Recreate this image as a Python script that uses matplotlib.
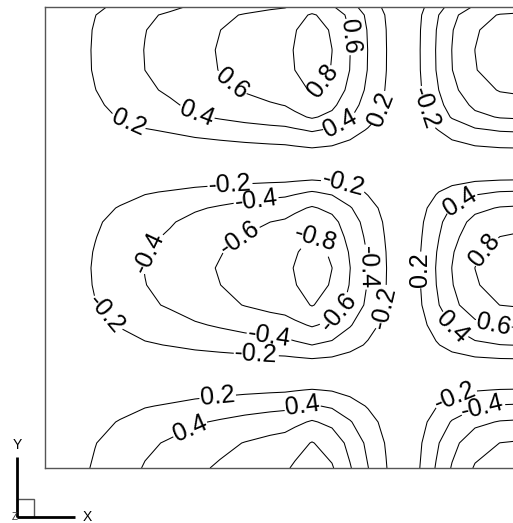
#====== Librerías ======
import numpy as np
import matplotlib
matplotlib.use("Agg")
import matplotlib.pyplot as plt
from matplotlib.patches import Rectangle

plt.rcParams['font.family'] = ['Liberation Sans', 'DejaVu Sans']

#====== Datos del campo (perfiles leídos a lo largo de x e y) ======
# nodos en x (desde el borde izquierdo) y amplitud relativa en cada uno
x_nodos = [0, 25, 50, 75, 100, 125, 150, 175, 200, 225, 240, 250, 267, 287, 305,
           323, 341, 358, 375, 391, 407, 430, 455, 480, 505]
amp_x = [0.03, 0.13, 0.24, 0.34, 0.45, 0.52, 0.61, 0.68, 0.75, 0.81, 0.84, 0.90,
         1.00, 0.89, 0.67, 0.44, 0.23, 0.00, -0.22, -0.45, -0.67, -0.89, -0.99,
         -1.02, -0.98]

# nodos en y (desde abajo) y perfil vertical
y_nodos = [0, 25, 46, 62, 78, 93, 108, 123, 143, 163, 183, 200, 216, 231, 246,
           260, 276, 288, 303, 321, 338, 351, 363, 378, 398, 418, 438, 453, 461]
perfil_y = [0.92, 0.81, 0.62, 0.42, 0.21, 0.0, -0.18, -0.40, -0.62, -0.81, -0.88,
            -0.90, -0.87, -0.81, -0.74, -0.62, -0.41, -0.20, 0.0, 0.21, 0.42, 0.62,
            0.72, 0.82, 0.89, 0.90, 0.88, 0.82, 0.70]

niveles = [-0.8, -0.6, -0.4, -0.2, 0.2, 0.4, 0.6, 0.8]

# posiciones aproximadas de las etiquetas (x desde la izquierda, y desde abajo)
pos_etiquetas = [
    (190, 388), (302, 431), (273, 390), (153, 358), (295, 345), (83, 345), (333, 360),
    (373, 358),
    (185, 283), (298, 283), (338, 161), (58, 151), (211, 108),
    (212, 260), (103, 216), (225, 138), (323, 201),
    (198, 226), (293, 156), (272, 231),
    (373, 198), (417, 263), (407, 140), (435, 223), (447, 138),
    (173, 68), (148, 33), (258, 60), (410, 72), (438, 59),
]

#====== Figura ======
fig = plt.figure(figsize=(5.13, 5.23), dpi=100)
ax = fig.add_axes([45 / 513, 55 / 523, 505 / 513, 461 / 523])

X, Y = np.meshgrid(x_nodos, y_nodos)
Z = np.outer(perfil_y, amp_x)

cs = ax.contour(X, Y, Z, levels=niveles, colors='black', linewidths=0.75,
                linestyles='solid')
ax.clabel(cs, fmt='%g', fontsize=18, inline=True, inline_spacing=1,
          manual=pos_etiquetas)

ax.set_xlim(0, 505)
ax.set_ylim(0, 461)
ax.set_xticks([])
ax.set_yticks([])
for lado in ax.spines.values():
    lado.set_color('#555555')
    lado.set_linewidth(1.0)

#====== Triedro de ejes (esquina inferior izquierda) ======
tri = fig.add_axes([0, 0, 1, 1])
tri.set_xlim(0, 513)
tri.set_ylim(523, 0)
tri.axis('off')
tri.patch.set_alpha(0)
tri.add_patch(Rectangle((17, 499), 17, 18, fill=False, edgecolor='#555555', lw=1))
tri.plot([17, 17], [457, 517], color='black', lw=2, solid_capstyle='butt')
tri.plot([17, 75], [517, 517], color='black', lw=2, solid_capstyle='butt')
tri.text(17, 445, 'Y', fontsize=10, ha='center', va='center')
tri.text(87, 517, 'X', fontsize=10, ha='center', va='center')
tri.text(15, 517, 'Z', fontsize=7, ha='center', va='center', color='#333333')

fig.savefig('out.png', dpi=100)
